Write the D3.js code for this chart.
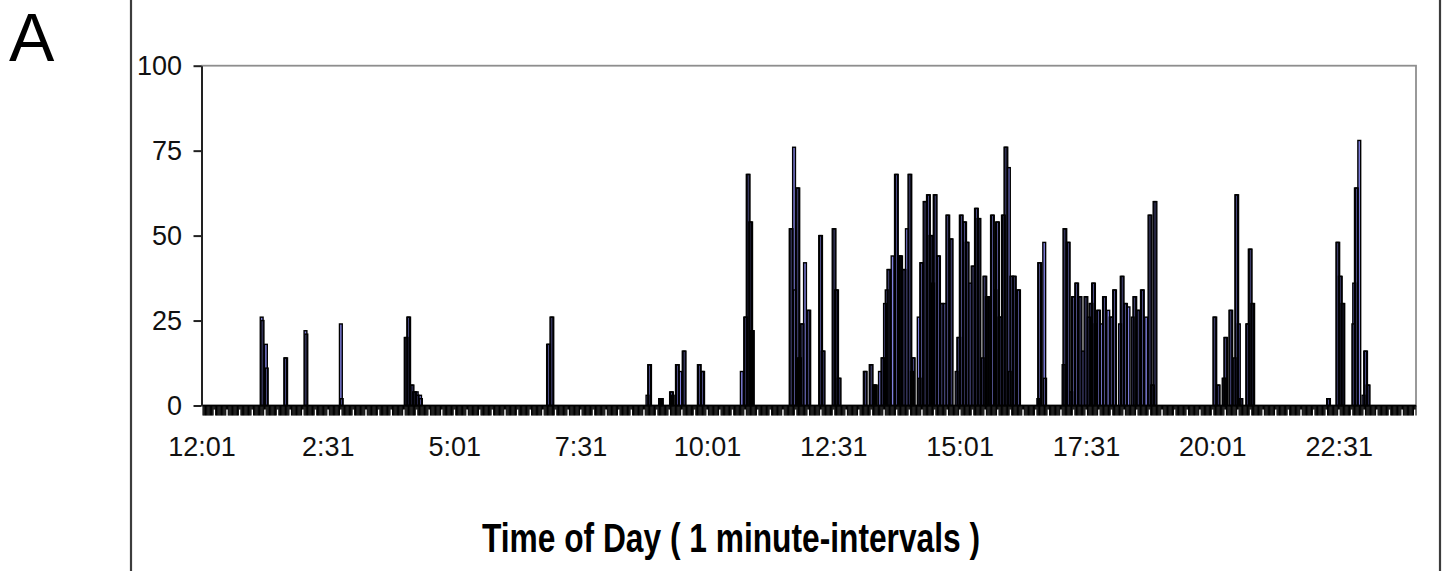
<!DOCTYPE html>
<html>
<head>
<meta charset="utf-8">
<script src="https://cdn.jsdelivr.net/npm/d3@7"></script>
<style>
  body { margin: 0; background: #fff; }
  svg { display: block; }
  text { font-family: Arial, "Liberation Sans", sans-serif; }
</style>
</head>
<body>
<svg id="chart" width="1447" height="571"></svg>
<script>
// activity per minute of the day, [minute index, value]; minutes not listed are 0
const night = [[68,26],[69,25],[73,18],[74,11],[96,14],[97,14],[120,22],[121,21],[162,24],[163,2],
  [239,20],[240,20],[242,26],[243,26],[246,6],[247,6],[249,4],[250,4],[252,4],[253,3],[256,3],[257,2]];
const morning = [[408,18],[409,18],[412,26],[413,26],[526,3],[528,12],[529,12],[541,2],[542,2],[543,2],
  [554,4],[555,4],[556,3],[561,12],[562,12],[565,10],[569,16],[570,16],[587,12],[588,12],[591,10],[592,10],
  [638,10],[642,26],[643,26],[645,68],[646,68],[648,54],[649,54],[650,22],[651,22]];
const midday = [[696,52],[697,52],[700,76],[701,34],[704,64],[705,64],[706,14],[707,14],[709,24],[710,24],
  [713,42],[717,28],[718,28],[731,50],[732,50],[734,16],[735,16],[747,52],[748,52],[750,34],[751,34],[753,8],[754,8]];
const afternoon = [[784,10],[785,10],[791,12],[792,12],[795,6],[796,6],[797,6],[802,10],[805,14],[806,14],
  [808,30],[810,34],[812,40],[813,40],[817,44],[821,68],[822,68],[825,44],[826,44],[827,44],[830,40],[831,40],
  [834,52],[837,68],[838,68],[840,10],[841,14],[842,14],[848,26],[849,8],[851,42],[852,42],[855,60],[856,60],
  [859,62],[860,62],[862,50],[863,50],[865,36],[867,62],[868,62],[871,44],[872,44],[875,30],[876,30],[879,30],
  [882,56],[883,56],[886,49],[887,49],[893,10],[895,20],[896,20],[898,56],[899,56],[902,54],[903,54],[905,48],
  [906,48],[909,36],[912,41],[913,41],[916,58],[917,58],[919,55],[920,55],[924,14],[926,38],[927,38],[929,32],
  [930,32],[931,32],[935,56],[936,56],[939,34],[941,54],[942,54],[944,26],[945,26],[948,56],[949,56],[951,76],
  [952,76],[955,70],[956,10],[958,38],[959,38],[961,38],[962,38],[966,34],[967,34]];
const evening = [[990,2],[991,42],[992,42],[997,48],[998,8],[1020,12],[1021,52],[1022,52],[1025,48],[1026,48],
  [1029,4],[1031,32],[1032,32],[1035,36],[1036,36],[1039,32],[1040,32],[1043,16],[1046,32],[1047,32],[1050,26],
  [1052,30],[1053,30],[1055,36],[1056,36],[1058,24],[1061,28],[1062,28],[1065,24],[1068,32],[1069,32],[1073,28],
  [1076,26],[1077,26],[1080,34],[1081,34],[1087,24],[1089,38],[1090,38],[1093,30],[1094,30],[1097,29],[1102,26],
  [1104,32],[1105,32],[1108,28],[1109,28],[1113,34],[1114,34],[1118,26],[1122,56],[1123,56],[1125,6],[1126,6],
  [1128,60],[1129,60]];
const lateNight = [[1199,26],[1200,26],[1203,6],[1204,6],[1210,8],[1211,8],[1212,20],[1213,20],[1218,28],[1219,28],
  [1223,14],[1225,62],[1226,62],[1228,24],[1230,2],[1231,2],[1238,24],[1239,24],[1241,46],[1242,46],[1244,30],
  [1245,30],[1334,2],[1335,2],[1345,48],[1346,48],[1348,38],[1349,38],[1351,30],[1352,30],[1364,24],[1365,36],
  [1367,64],[1368,64],[1371,78],[1376,3],[1378,16],[1379,16],[1381,6],[1382,6]];

const timeLabels = ['12:01', '2:31', '5:01', '7:31', '10:01', '12:31', '15:01', '17:31', '20:01', '22:31'];
const yTicks = [0, 25, 50, 75, 100];
const minutesPerDay = 1440;
const labelEvery = 150;

const svg = d3.select('#chart');
const x = d3.scaleLinear().domain([0, minutesPerDay]).range([203, 1416]);
const y = d3.scaleLinear().domain([0, 100]).range([405.5, 65.7]);

// outer frame of the figure
svg.append('rect')
  .attr('x', 131).attr('y', -10).attr('width', 1309).attr('height', 600)
  .attr('fill', 'none').attr('stroke', '#3c3c3c').attr('stroke-width', 2.2);

svg.append('text').attr('x', 9).attr('y', 61).attr('font-size', 68).attr('fill', '#000').text('A');

// plot area border (grey)
svg.append('rect')
  .attr('x', 202).attr('y', y(100)).attr('width', 1214).attr('height', y(0) - y(100))
  .attr('fill', 'none').attr('stroke', '#8e8e8e').attr('stroke-width', 1.8);

const bars = [...night, ...morning, ...midday, ...afternoon, ...evening, ...lateNight]
  .map(([m, v]) => ({ m, v }));

// fills first, then outlines, like the dense excel rendering
const gBars = svg.append('g');
gBars.selectAll('rect.fill')
  .data(bars)
  .join('rect')
  .attr('class', 'fill')
  .attr('x', d => x(d.m))
  .attr('y', d => y(d.v))
  .attr('width', 2.8)
  .attr('height', d => y(0) - y(d.v))
  .attr('fill', '#8080e0');
gBars.selectAll('rect.edge')
  .data(bars)
  .join('rect')
  .attr('class', 'edge')
  .attr('x', d => x(d.m))
  .attr('y', d => y(d.v))
  .attr('width', 2.8)
  .attr('height', d => y(0) - y(d.v))
  .attr('fill', 'none')
  .attr('stroke', '#000')
  .attr('stroke-width', 1.4);

// one tick mark per minute under the axis
svg.append('g')
  .selectAll('line')
  .data(d3.range(minutesPerDay + 1))
  .join('line')
  .attr('x1', d => x(d)).attr('x2', d => x(d))
  .attr('y1', y(0))
  .attr('y2', d => (d % 15 === 13 || d % 15 === 14) ? y(0) + 4 : y(0) + 10)
  .attr('stroke', '#000')
  .attr('stroke-width', 1.1);

svg.append('line')
  .attr('x1', 202).attr('x2', 1416).attr('y1', y(0)).attr('y2', y(0))
  .attr('stroke', '#000').attr('stroke-width', 1.5);

// y axis
const yAxis = d3.axisLeft(y).tickValues(yTicks).tickSize(8).tickSizeOuter(0).tickPadding(11.5);
const gy = svg.append('g').attr('transform', 'translate(201.5,0)').call(yAxis);
gy.select('.domain').attr('stroke', '#222').attr('stroke-width', 2);
gy.selectAll('.tick line').attr('stroke', '#222').attr('stroke-width', 2);
gy.selectAll('.tick text')
  .attr('font-size', 27)
  .attr('font-family', 'Arial, "Liberation Sans", sans-serif')
  .attr('fill', '#111');

// x labels every 150 minutes
svg.append('g')
  .selectAll('text')
  .data(timeLabels)
  .join('text')
  .attr('x', (d, i) => x(i * labelEvery) - 1)
  .attr('y', 456)
  .attr('text-anchor', 'middle')
  .attr('font-size', 27)
  .attr('fill', '#111')
  .text(d => d);

svg.append('text')
  .attr('x', 731).attr('y', 552)
  .attr('text-anchor', 'middle')
  .attr('font-size', 41)
  .attr('font-weight', 'bold')
  .attr('textLength', 498)
  .attr('lengthAdjust', 'spacingAndGlyphs')
  .attr('fill', '#000')
  .text('Time of Day ( 1 minute-intervals )');
</script>
</body>
</html>
